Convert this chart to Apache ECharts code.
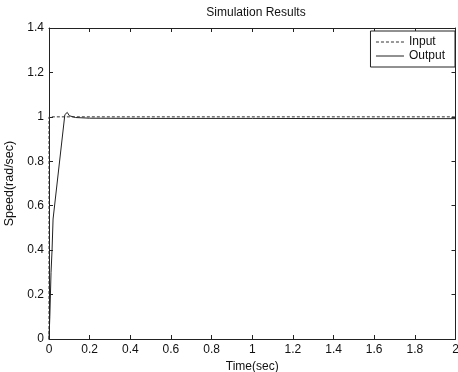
<!DOCTYPE html>
<html><head><meta charset="utf-8">
<script src="https://cdn.jsdelivr.net/npm/echarts@6/dist/echarts.min.js"></script>
<style>html,body{margin:0;padding:0;background:#fff}#c{width:458px;height:372px}</style>
</head><body><div id="c"></div>
<script>
const title = "Simulation Results";
const xName = "Time(sec)";
const yName = "Speed(rad/sec)";
const inputT = [0, 0, 2];
const inputV = [0, 1, 1];
const outputT = [0, 0.004, 0.01, 0.015, 0.02, 0.078, 0.09, 0.1, 0.13, 0.2, 0.5, 1.0, 1.5, 2.0];
const outputV = [0, 0.1, 0.3, 0.4, 0.54, 1.01, 1.02, 1.005, 0.997, 0.994, 0.993, 0.993, 0.992, 0.992];
const xTicks = [0, 0.2, 0.4, 0.6, 0.8, 1, 1.2, 1.4, 1.6, 1.8, 2];
const yTicks = [0, 0.2, 0.4, 0.6, 0.8, 1, 1.2, 1.4];

const zip = (a, b) => a.map((v, i) => [v, b[i]]);
const font = 'Liberation Sans, Arial, sans-serif';
const lc = '#222';
const chart = echarts.init(document.getElementById('c'));
const baseX = {
  type: 'value', min: 0, max: 2, interval: 0.2,
  axisLine: {show: true, onZero: false, lineStyle: {color: lc, width: 1}},
  axisTick: {show: true, inside: true, length: 4, lineStyle: {color: lc}},
  splitLine: {show: false}
};
const baseY = {
  type: 'value', min: 0, max: 1.4, interval: 0.2,
  axisLine: {show: true, onZero: false, lineStyle: {color: lc, width: 1}},
  axisTick: {show: true, inside: true, length: 4, lineStyle: {color: lc}},
  splitLine: {show: false}
};
chart.setOption({
  animation: false,
  backgroundColor: '#fff',
  title: {text: title, left: 251, top: 2, textAlign: 'center',
    textStyle: {fontFamily: font, fontSize: 12, fontWeight: 'normal', color: '#111'}},
  grid: {left: 49, right: 2.5, top: 28, bottom: 33, containLabel: false, outerBoundsMode: 'none'},
  legend: {
    orient: 'vertical', right: 3, top: 31, padding: [5, 10, 5, 5],
    itemWidth: 28, itemHeight: 12, itemGap: 2,
    borderColor: lc, borderWidth: 1, backgroundColor: '#fff',
    itemStyle: {color: 'transparent', borderWidth: 0, opacity: 0},
    lineStyle: {width: 1},
    textStyle: {fontFamily: font, fontSize: 12, color: '#111', padding: [0, 0, 0, 0]},
    data: ['Input', 'Output']
  },
  xAxis: [
    Object.assign({}, baseX, {position: 'bottom', name: xName, nameLocation: 'middle', nameGap: 19,
      nameTextStyle: {fontFamily: font, fontSize: 12, color: '#111'},
      axisLabel: {fontFamily: font, fontSize: 12, color: '#111', margin: 5,
        formatter: v => String(parseFloat(v.toFixed(1)))}}),
    Object.assign({}, baseX, {position: 'top', axisLabel: {show: false}})
  ],
  yAxis: [
    Object.assign({}, baseY, {position: 'left', name: yName, nameLocation: 'middle', nameGap: 32,
      nameTextStyle: {fontFamily: font, fontSize: 12.5, color: '#111'},
      axisLabel: {fontFamily: font, fontSize: 12, color: '#111', margin: 5,
        formatter: v => String(parseFloat(v.toFixed(1)))}}),
    Object.assign({}, baseY, {position: 'right', axisLabel: {show: false}})
  ],
  series: [
    {name: 'Input', type: 'line', data: zip(inputT, inputV), symbol: 'none',
      lineStyle: {color: '#333', width: 1, type: [3, 2]}, itemStyle: {color: '#333'}},
    {name: 'Output', type: 'line', data: zip(outputT, outputV), symbol: 'none',
      lineStyle: {color: '#222', width: 1, type: 'solid'}, itemStyle: {color: '#222'}}
  ]
});
</script></body></html>
